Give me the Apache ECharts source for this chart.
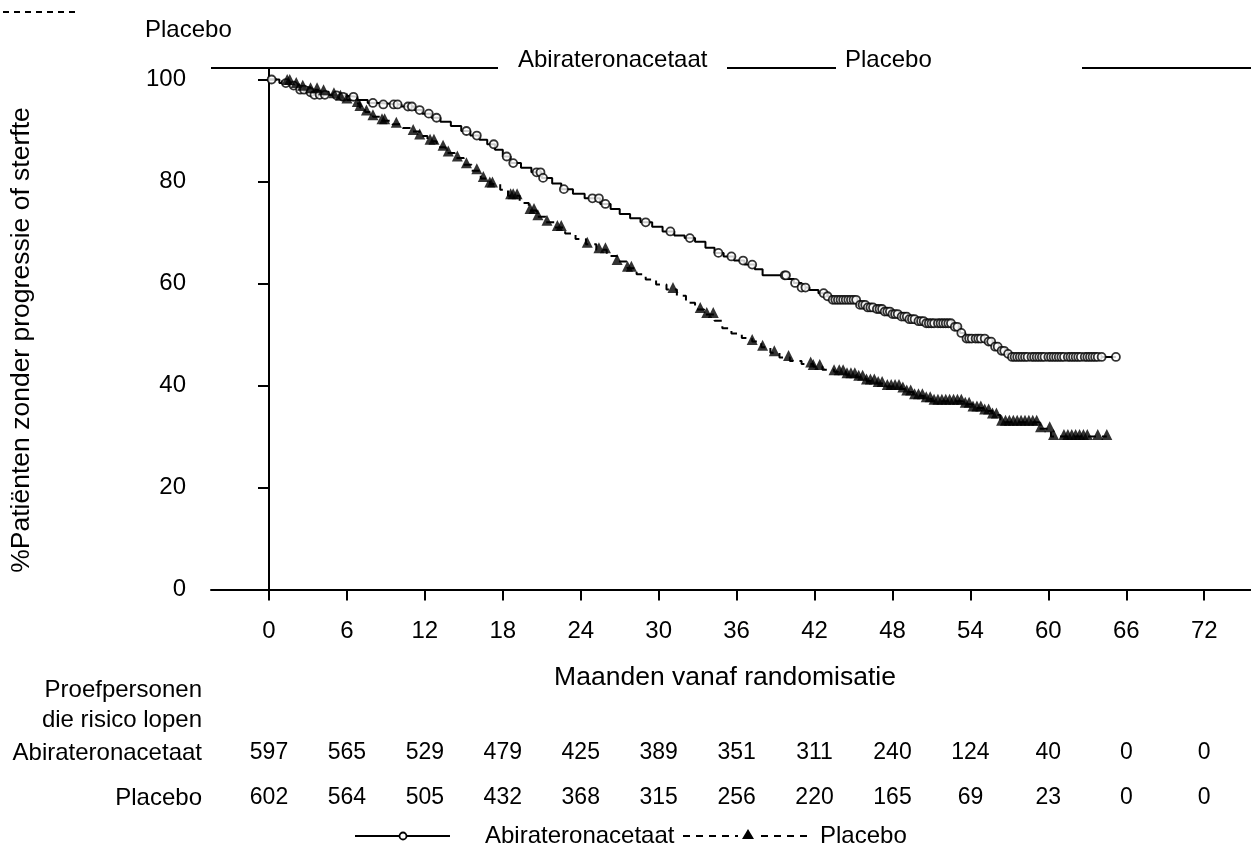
<!DOCTYPE html>
<html>
<head>
<meta charset="utf-8">
<script src="https://cdn.jsdelivr.net/npm/echarts@6/dist/echarts.min.js"></script>
<style>
html,body{margin:0;padding:0;background:#fff;}
#chart{width:1251px;height:856px;}
</style>
</head>
<body>
<div id="chart"></div>
<script>
// ---- data ----
const months = [0, 6, 12, 18, 24, 30, 36, 42, 48, 54, 60, 66, 72];
const yTicks = [0, 20, 40, 60, 80, 100];
const abiRisk = [597, 565, 529, 479, 425, 389, 351, 311, 240, 124, 40, 0, 0];
const pboRisk = [602, 564, 505, 432, 368, 315, 256, 220, 165, 69, 23, 0, 0];

const abiTime = [0, 0.8, 1.5, 2.2, 2.8, 3.5, 4.5, 5.5, 6.8, 7.6, 8.5, 10.2, 11.2, 11.8, 12.5, 13.2, 14.0, 14.8, 15.5, 16.2, 16.8, 17.4, 18.0, 18.6, 19.4, 20.2, 21.0, 21.8, 22.5, 23.4, 24.3, 25.5, 26.3, 27.0, 27.8, 28.6, 29.5, 30.3, 31.2, 32.0, 32.8, 33.6, 34.3, 35.0, 35.8, 36.6, 37.4, 38.0, 39.9, 40.4, 41.0, 41.6, 42.3, 43.0, 43.4, 45.3, 46.0, 46.6, 47.3, 47.9, 48.5, 49.2, 49.9, 50.5, 52.8, 53.2, 53.6, 55.3, 55.8, 56.3, 56.8, 57.2, 65.2];
const abiSurv = [100, 99.3, 98.8, 98.0, 97.5, 97.0, 96.9, 96.6, 96.0, 95.4, 95.1, 94.7, 94.0, 93.3, 92.5, 91.7, 90.9, 89.9, 89.0, 88.2, 87.3, 86.2, 84.9, 83.6, 82.7, 81.8, 80.7, 79.6, 78.5, 77.6, 76.7, 75.6, 74.6, 73.6, 72.8, 72.0, 71.1, 70.2, 69.4, 68.9, 68.2, 67.0, 66.0, 65.3, 64.5, 63.7, 62.8, 61.6, 60.9, 60.1, 59.2, 58.7, 58.1, 57.5, 56.8, 55.8, 55.3, 55.0, 54.5, 54.0, 53.5, 53.0, 52.6, 52.2, 51.5, 50.3, 49.2, 48.6, 47.6, 46.8, 46.2, 45.6, 45.6];

const pboTime = [0, 1.0, 1.8, 2.4, 3.2, 3.8, 4.6, 5.3, 6.0, 6.5, 7.0, 7.4, 8.0, 8.7, 9.5, 10.3, 11.0, 11.6, 12.2, 12.9, 13.6, 14.3, 15.0, 15.6, 16.3, 17.0, 17.8, 18.4, 19.3, 20.0, 20.6, 21.3, 22.0, 22.8, 23.6, 24.4, 25.2, 26.0, 26.8, 27.6, 28.3, 29.0, 29.8, 30.6, 31.4, 32.1, 32.8, 33.5, 34.3, 34.9, 35.6, 36.4, 37.2, 37.9, 38.6, 39.3, 40.1, 41.0, 41.9, 42.6, 43.5, 44.4, 45.2, 46.0, 46.8, 47.3, 48.6, 49.1, 49.6, 50.4, 51.0, 53.4, 54.2, 55.0, 55.7, 56.3, 59.3, 60.2, 64.5];
const pboSurv = [100, 99.6, 99.0, 98.5, 98.0, 97.6, 97.0, 96.5, 96.0, 95.3, 94.5, 93.6, 92.7, 91.9, 91.2, 90.5, 89.8, 88.9, 87.9, 86.7, 85.6, 84.6, 83.3, 82.1, 80.6, 79.5, 78.4, 77.2, 75.8, 74.3, 73.1, 72.0, 71.0, 69.8, 68.7, 67.7, 66.6, 65.4, 64.3, 63.0, 61.8, 60.8, 59.8, 58.8, 57.6, 56.2, 54.9, 53.9, 52.7, 51.2, 50.2, 49.3, 48.6, 47.5, 46.4, 45.5, 44.8, 44.2, 43.7, 43.1, 42.7, 42.1, 41.6, 40.9, 40.4, 39.8, 39.3, 38.7, 38.0, 37.4, 36.9, 36.3, 35.6, 35.0, 34.2, 32.8, 31.5, 30.0, 30.0];

const abiCensor = [0.2, 1.3, 1.9, 2.4, 2.7, 3.2, 3.5, 3.9, 4.3, 5.2, 5.7, 6.5, 8.0, 8.8, 9.6, 9.9, 10.7, 11.0, 11.6, 12.3, 12.9, 15.2, 16.0, 17.3, 18.3, 18.8, 20.6, 20.9, 21.1, 22.7, 24.9, 25.4, 25.9, 29.0, 30.9, 32.4, 34.6, 35.6, 36.5, 37.2, 39.7, 39.8, 40.5, 41.0, 41.3, 42.7, 43.0, 43.4, 43.6, 43.8, 44.0, 44.2, 44.4, 44.6, 44.8, 45.0, 45.2, 45.5, 45.7, 45.9, 46.1, 46.3, 46.5, 46.8, 47.0, 47.2, 47.4, 47.6, 47.8, 48.0, 48.2, 48.4, 48.7, 48.9, 49.1, 49.3, 49.5, 49.7, 50.0, 50.2, 50.4, 50.6, 50.8, 51.0, 51.2, 51.5, 51.7, 51.9, 52.1, 52.3, 52.5, 52.8, 53.0, 53.3, 53.7, 53.9, 54.1, 54.4, 54.6, 54.8, 55.1, 55.4, 55.6, 55.9, 56.1, 56.4, 56.6, 56.9, 57.2, 57.4, 57.6, 57.8, 58.0, 58.2, 58.4, 58.7, 58.9, 59.1, 59.3, 59.5, 59.7, 60.0, 60.2, 60.4, 60.6, 60.8, 61.0, 61.2, 61.5, 61.7, 61.9, 62.1, 62.3, 62.5, 62.8, 63.0, 63.2, 63.4, 63.6, 63.8, 64.1, 65.2];
const pboCensor = [1.4, 1.6, 2.1, 2.6, 3.2, 3.7, 4.2, 5.0, 5.5, 6.0, 6.8, 7.0, 7.5, 8.0, 8.7, 8.9, 9.8, 11.1, 11.6, 12.4, 12.7, 13.4, 13.8, 14.5, 15.2, 16.0, 16.5, 17.0, 17.2, 18.6, 18.8, 19.1, 20.1, 20.4, 20.7, 21.4, 22.2, 22.5, 24.5, 25.4, 25.9, 26.8, 27.6, 27.9, 31.1, 33.2, 33.7, 34.2, 37.2, 38.0, 38.9, 40.0, 41.7, 41.9, 42.4, 43.5, 43.9, 44.2, 44.5, 44.8, 45.1, 45.4, 45.7, 46.0, 46.3, 46.6, 46.9, 47.2, 47.6, 47.9, 48.2, 48.5, 48.8, 49.1, 49.4, 49.7, 50.0, 50.3, 50.6, 50.9, 51.2, 51.5, 51.8, 52.1, 52.4, 52.7, 53.0, 53.3, 53.6, 53.9, 54.2, 54.5, 54.8, 55.1, 55.4, 55.7, 56.0, 56.4, 56.7, 57.0, 57.3, 57.6, 57.9, 58.2, 58.5, 58.8, 59.1, 59.4, 60.1, 60.4, 61.2, 61.5, 61.8, 62.1, 62.4, 62.7, 63.0, 63.8, 64.5];

const seriesNames = ['Abirateronacetaat', 'Placebo'];
const yTitle = '%Patiënten zonder progressie of sterfte';
const xTitle = 'Maanden vanaf randomisatie';
const riskTitle = ['Proefpersonen', 'die risico lopen'];

// ---- helpers ----
function zip(a, b) { return a.map((t, i) => [t, b[i]]); }
function survAt(times, vals, t) {
  let v = vals[0];
  for (let i = 0; i < times.length; i++) { if (times[i] <= t) v = vals[i]; }
  return v;
}
const FONT = '"Liberation Sans", Arial, sans-serif';
const FS = 24;
const TXT = { fontFamily: FONT, fontSize: FS, color: '#000' };
const XMIN = -4.465, XMAX = 75.6;

function riskAxis(values, offset) {
  return {
    type: 'value', gridIndex: 0, position: 'bottom', min: XMIN, max: XMAX, offset: offset,
    axisLine: { show: false }, axisTick: { show: false }, splitLine: { show: false },
    axisLabel: {
      customValues: months, margin: 0, verticalAlign: 'middle',
      fontFamily: FONT, fontSize: 23, color: '#000',
      formatter: v => String(values[months.indexOf(v)])
    }
  };
}
function label(text, x, y, align, size) {
  return { type: 'text', x: x, y: y, style: { text: text, font: (size || FS) + 'px ' + FONT, fill: '#000', textAlign: align || 'left', textVerticalAlign: 'middle' } };
}

const chart = echarts.init(document.getElementById('chart'), null, { renderer: 'canvas' });
chart.setOption({
  backgroundColor: '#fff',
  animation: false,
  grid: { left: 211, top: 68, right: 0, bottom: 258.5, containLabel: false },
  xAxis: [
    {
      type: 'value', min: XMIN, max: XMAX,
      axisLine: { show: true, lineStyle: { color: '#000', width: 2 } },
      axisTick: { show: true, customValues: months, length: 11, lineStyle: { color: '#000', width: 2 } },
      axisLabel: { customValues: months, margin: 22, ...TXT },
      splitLine: { show: false }
    },
    riskAxis(abiRisk, 155.5),
    riskAxis(pboRisk, 200.5)
  ],
  yAxis: {
    type: 'value', min: -1.57, max: 102.25,
    axisLine: { show: true, lineStyle: { color: '#000', width: 2 } },
    axisTick: { show: true, customValues: yTicks, length: 11, lineStyle: { color: '#000', width: 2 } },
    axisLabel: { customValues: yTicks, margin: 25, ...TXT },
    splitLine: { show: false }
  },
  series: [
    {
      name: seriesNames[0], type: 'line', step: 'end', data: zip(abiTime, abiSurv),
      showSymbol: false, symbol: 'none', lineStyle: { color: '#000', width: 2 }, z: 2
    },
    {
      name: seriesNames[1], type: 'line', step: 'end', data: zip(pboTime, pboSurv),
      showSymbol: false, symbol: 'none', lineStyle: { color: '#000', width: 2, type: [8, 6] }, z: 2
    },
    {
      name: seriesNames[0] + ' gecensureerd', type: 'scatter',
      data: abiCensor.map(t => [t, survAt(abiTime, abiSurv, t)]),
      symbol: 'circle', symbolSize: 8,
      itemStyle: { color: '#fff', borderColor: '#000', borderWidth: 1.8 }, z: 3
    },
    {
      name: seriesNames[1] + ' gecensureerd', type: 'scatter',
      data: pboCensor.map(t => [t, survAt(pboTime, pboSurv, t)]),
      symbol: 'triangle', symbolSize: 11, symbolOffset: [0, -2],
      itemStyle: { color: '#000' }, z: 3
    }
  ],
  graphic: [
    { type: 'line', shape: { x1: 3, y1: 12, x2: 77, y2: 12 }, style: { stroke: '#000', lineWidth: 2, lineDash: [6, 5] } },
    label(seriesNames[1], 145, 30),
    { type: 'line', shape: { x1: 211, y1: 68, x2: 498, y2: 68 }, style: { stroke: '#000', lineWidth: 2 } },
    label(seriesNames[0], 518, 60),
    { type: 'line', shape: { x1: 727, y1: 68, x2: 836, y2: 68 }, style: { stroke: '#000', lineWidth: 2 } },
    label(seriesNames[1], 845, 60),
    { type: 'line', shape: { x1: 1082, y1: 68, x2: 1251, y2: 68 }, style: { stroke: '#000', lineWidth: 2 } },
    Object.assign(label(yTitle, 22, 340, 'center', 26.5), { rotation: Math.PI / 2 }),
    label(xTitle, 725, 678, 'center', 26.5),
    label(riskTitle[0], 202, 690, 'right'),
    label(riskTitle[1], 202, 720, 'right'),
    label(seriesNames[0], 202, 753, 'right'),
    label(seriesNames[1], 202, 798, 'right'),
    { type: 'line', shape: { x1: 355, y1: 836, x2: 450, y2: 836 }, style: { stroke: '#000', lineWidth: 2 } },
    { type: 'circle', shape: { cx: 403, cy: 836, r: 3.5 }, style: { fill: '#fff', stroke: '#000', lineWidth: 1.8 } },
    label(seriesNames[0], 485, 836),
    { type: 'line', shape: { x1: 683, y1: 836, x2: 813, y2: 836 }, style: { stroke: '#000', lineWidth: 1.8, lineDash: [7, 6] } },
    { type: 'rect', shape: { x: 738, y: 830, width: 20, height: 10 }, style: { fill: '#fff' } },
    { type: 'polygon', shape: { points: [[748, 829], [742, 839], [754, 839]] }, style: { fill: '#000' } },
    label(seriesNames[1], 820, 836)
  ]
});
</script>
</body>
</html>
